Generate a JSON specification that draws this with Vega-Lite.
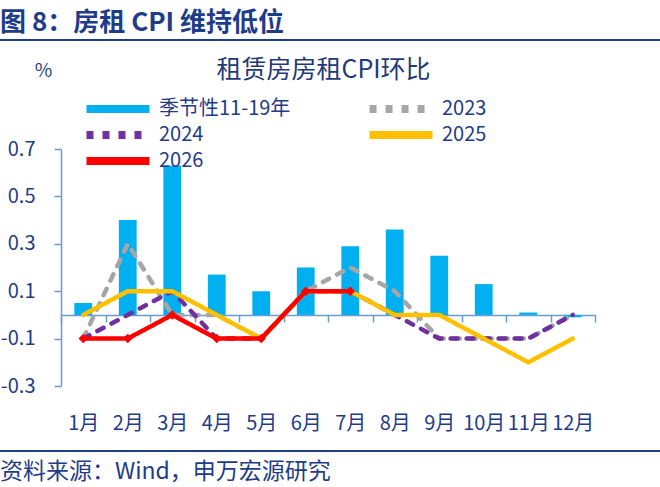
{
  "$schema": "https://vega.github.io/schema/vega-lite/v6.json",
  "padding": {"left": 0, "top": 10, "right": 0, "bottom": 8},
  "background": "white",
  "config": {
    "font": "Noto Sans CJK SC",
    "view": {"stroke": null}
  },
  "datasets": {
    "rent": [
      {"month": "1月", "series": "季节性11-19年", "value": 0.05},
      {"month": "2月", "series": "季节性11-19年", "value": 0.40},
      {"month": "3月", "series": "季节性11-19年", "value": 0.63},
      {"month": "4月", "series": "季节性11-19年", "value": 0.17},
      {"month": "5月", "series": "季节性11-19年", "value": 0.10},
      {"month": "6月", "series": "季节性11-19年", "value": 0.20},
      {"month": "7月", "series": "季节性11-19年", "value": 0.29},
      {"month": "8月", "series": "季节性11-19年", "value": 0.36},
      {"month": "9月", "series": "季节性11-19年", "value": 0.25},
      {"month": "10月", "series": "季节性11-19年", "value": 0.13},
      {"month": "11月", "series": "季节性11-19年", "value": 0.01},
      {"month": "12月", "series": "季节性11-19年", "value": -0.01},

      {"month": "1月", "series": "2023", "value": -0.1},
      {"month": "2月", "series": "2023", "value": 0.3},
      {"month": "3月", "series": "2023", "value": 0.0},
      {"month": "4月", "series": "2023", "value": 0.0},
      {"month": "5月", "series": "2023", "value": -0.1},
      {"month": "6月", "series": "2023", "value": 0.1},
      {"month": "7月", "series": "2023", "value": 0.2},
      {"month": "8月", "series": "2023", "value": 0.1},
      {"month": "9月", "series": "2023", "value": -0.1},
      {"month": "10月", "series": "2023", "value": -0.1},
      {"month": "11月", "series": "2023", "value": -0.1},
      {"month": "12月", "series": "2023", "value": 0.0},

      {"month": "1月", "series": "2024", "value": -0.1},
      {"month": "2月", "series": "2024", "value": 0.0},
      {"month": "3月", "series": "2024", "value": 0.1},
      {"month": "4月", "series": "2024", "value": -0.1},
      {"month": "5月", "series": "2024", "value": -0.1},
      {"month": "6月", "series": "2024", "value": 0.1},
      {"month": "7月", "series": "2024", "value": 0.1},
      {"month": "8月", "series": "2024", "value": 0.0},
      {"month": "9月", "series": "2024", "value": -0.1},
      {"month": "10月", "series": "2024", "value": -0.1},
      {"month": "11月", "series": "2024", "value": -0.1},
      {"month": "12月", "series": "2024", "value": 0.0},

      {"month": "1月", "series": "2025", "value": 0.0},
      {"month": "2月", "series": "2025", "value": 0.1},
      {"month": "3月", "series": "2025", "value": 0.1},
      {"month": "4月", "series": "2025", "value": 0.0},
      {"month": "5月", "series": "2025", "value": -0.1},
      {"month": "6月", "series": "2025", "value": 0.1},
      {"month": "7月", "series": "2025", "value": 0.1},
      {"month": "8月", "series": "2025", "value": 0.0},
      {"month": "9月", "series": "2025", "value": 0.0},
      {"month": "10月", "series": "2025", "value": -0.1},
      {"month": "11月", "series": "2025", "value": -0.2},
      {"month": "12月", "series": "2025", "value": -0.1},

      {"month": "1月", "series": "2026", "value": -0.1},
      {"month": "2月", "series": "2026", "value": -0.1},
      {"month": "3月", "series": "2026", "value": 0.0},
      {"month": "4月", "series": "2026", "value": -0.1},
      {"month": "5月", "series": "2026", "value": -0.1},
      {"month": "6月", "series": "2026", "value": 0.1},
      {"month": "7月", "series": "2026", "value": 0.1}
    ]
  },
  "vconcat": [
    {
      "spacing": 17,
      "vconcat": [
        {
          "data": {"values": []},
          "width": 660,
          "height": 2,
          "view": {"fill": "#1F3C88", "stroke": null},
          "title": {
            "text": "图 8：房租 CPI 维持低位",
            "anchor": "start",
            "fontSize": 26,
            "fontWeight": "bold",
            "color": "#1F3C88",
            "offset": 3
          },
          "mark": {"type": "rule", "opacity": 0},
          "encoding": {}
        },
        {
          "data": {"name": "rent"},
          "width": 595,
          "height": 237,
          "title": {
            "text": "租赁房房租CPI环比",
            "fontSize": 25,
            "fontWeight": "normal",
            "color": "#1F3A7A",
            "anchor": "middle",
            "dx": 26,
            "offset": -22
          },
          "encoding": {
            "x": {
              "field": "month",
              "type": "nominal",
              "scale": {
                "domain": ["1月", "2月", "3月", "4月", "5月", "6月", "7月", "8月", "9月", "10月", "11月", "12月"],
                "range": [61, 595],
                "paddingInner": 0,
                "paddingOuter": 0
              },
              "axis": {
                "title": null,
                "orient": "bottom",
                "offset": -71,
                "tickBand": "extent",
                "tickSize": 7,
                "labelPadding": 91,
                "labelAngle": 0,
                "labelFontSize": 20,
                "labelColor": "#1F3C88",
                "labelOverlap": false,
                "labelBound": false,
                "labelFlush": false,
                "domainColor": "#6C9BD2",
                "domainWidth": 1.5,
                "tickColor": "#6C9BD2",
                "tickWidth": 1.5,
                "grid": false
              }
            },
            "y": {
              "field": "value",
              "type": "quantitative",
              "scale": {"domain": [-0.3, 0.7], "nice": false, "zero": false},
              "axis": {
                "offset": -61,
                "title": "%",
                "titleAngle": 0,
                "titleX": -18,
                "titleY": -79,
                "titleAlign": "center",
                "titleBaseline": "middle",
                "titleFontSize": 19,
                "titleFontWeight": "normal",
                "titleColor": "#1F3C88",
                "values": [-0.3, -0.1, 0.1, 0.3, 0.5, 0.7],
                "format": ".1f",
                "labelExpr": "replace(datum.label, '−', '-')",
                "labelFontSize": 20,
                "labelColor": "#1F3C88",
                "labelPadding": 19,
                "tickSize": 7,
                "tickColor": "#6C9BD2",
                "tickWidth": 1.5,
                "domainColor": "#6C9BD2",
                "domainWidth": 1.5,
                "grid": false
              }
            }
          },
          "layer": [
            {
              "transform": [{"filter": "datum.series === '季节性11-19年'"}],
              "mark": {"type": "bar", "width": {"band": 0.4}},
              "encoding": {
                "color": {
                  "field": "series",
                  "type": "nominal",
                  "scale": {
                    "domain": ["季节性11-19年", "2023", "2024", "2025", "2026"],
                    "range": ["#00B0F0", "#A6A6A6", "#7030A0", "#FFC000", "#FF0000"]
                  },
                  "legend": {
                    "title": null,
                    "orient": "none",
                    "legendX": 108,
                    "legendY": 60,
                    "columns": 2,
                    "direction": "horizontal",
                    "symbolType": "M-9,0H9",
                    "symbolSize": 49,
                    "symbolStrokeWidth": 8,
                    "symbolOffset": 0,
                    "labelFontSize": 20,
                    "labelColor": "#1F3C88",
                    "labelOffset": 31,
                    "columnPadding": 62,
                    "rowPadding": -7,
                    "padding": 0
                  }
                }
              }
            },
            {
              "transform": [{"filter": "datum.series !== '季节性11-19年'"}],
              "mark": {"type": "line", "strokeWidth": 4.5, "strokeCap": "round"},
              "encoding": {
                "color": {
                  "field": "series",
                  "type": "nominal",
                  "scale": {
                    "domain": ["季节性11-19年", "2023", "2024", "2025", "2026"],
                    "range": ["#00B0F0", "#A6A6A6", "#7030A0", "#FFC000", "#FF0000"]
                  }
                },
                "strokeDash": {
                  "field": "series",
                  "type": "nominal",
                  "scale": {
                    "domain": ["季节性11-19年", "2023", "2024", "2025", "2026"],
                    "range": [[1, 0], [7, 9], [7, 9], [1, 0], [1, 0]]
                  },
                  "legend": {
                    "title": null,
                    "orient": "none",
                    "legendX": 108,
                    "legendY": 60,
                    "columns": 2,
                    "direction": "horizontal",
                    "symbolType": "M-9,0H9",
                    "symbolSize": 49,
                    "symbolStrokeWidth": 8,
                    "symbolOffset": 0,
                    "labelFontSize": 20,
                    "labelColor": "#1F3C88",
                    "labelOffset": 31,
                    "columnPadding": 62,
                    "rowPadding": -7,
                    "padding": 0
                  }
                }
              }
            },
            {
              "transform": [{"filter": "datum.series === '2026'"}],
              "mark": {"type": "point", "shape": "diamond", "filled": true, "size": 90, "opacity": 1},
              "encoding": {
                "color": {"value": "#FF0000"}
              }
            }
          ]
        },
        {
          "data": {"values": []},
          "width": 660,
          "height": 2,
          "view": {"fill": "#1F3C88", "stroke": null},
          "title": {
            "text": "资料来源：Wind，申万宏源研究",
            "orient": "bottom",
            "anchor": "start",
            "fontSize": 23,
            "fontWeight": "normal",
            "color": "#1F3C88",
            "offset": 9
          },
          "mark": {"type": "rule", "opacity": 0},
          "encoding": {}
        }
      ]
    }
  ]
}
